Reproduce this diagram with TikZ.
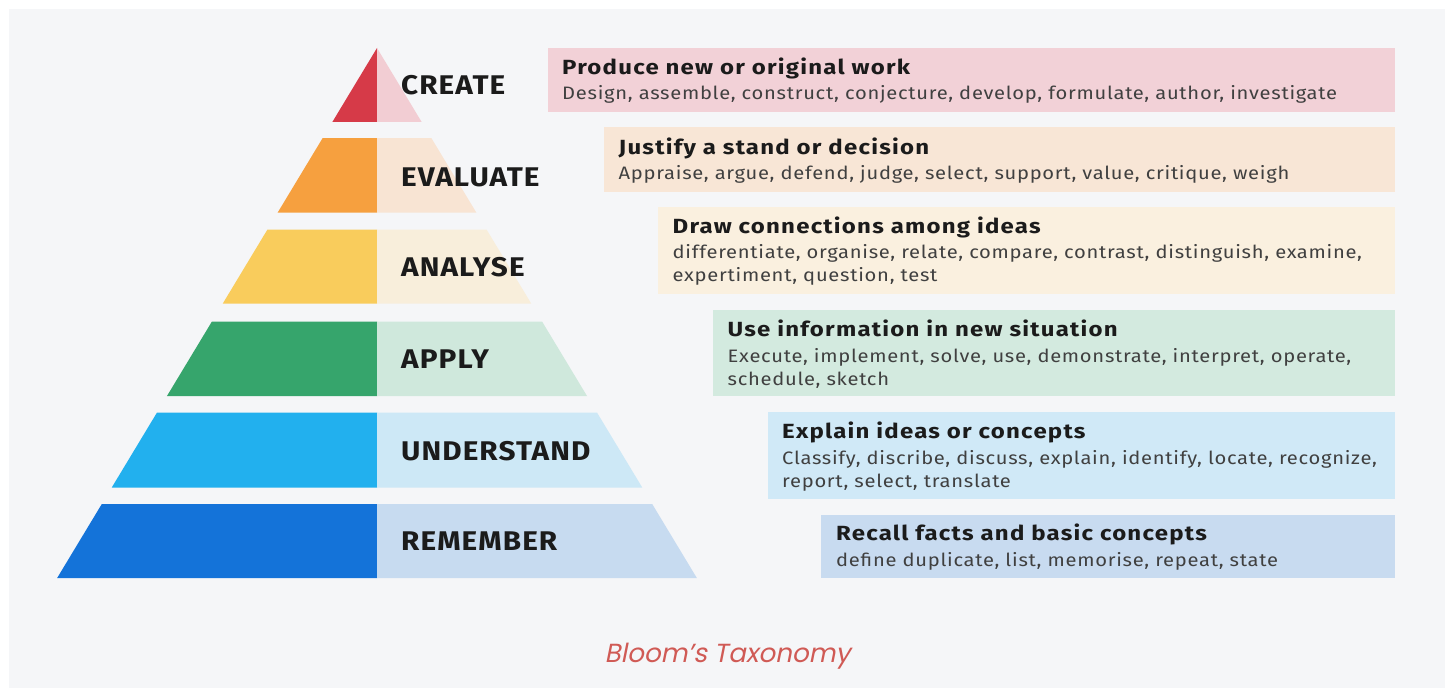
\documentclass[tikz,border=0pt]{standalone}
\usepackage{fontspec}
\setmainfont{Fira Sans}
\newfontfamily\lvlfont[FakeStretch=1.1,LetterSpace=4]{Fira Sans}
\newfontfamily\ttlfont[FakeStretch=1.17,LetterSpace=6]{Fira Sans}
\newfontfamily\subfont[FakeStretch=1.12,LetterSpace=4]{Fira Sans}
\newfontfamily\capfont[FakeSlant=0.2]{Poppins}
\definecolor{panel}{HTML}{F5F6F8}
\definecolor{cRed}{HTML}{D63A48}
\definecolor{cPink}{HTML}{F2CDD3}
\definecolor{cOrange}{HTML}{F6A03F}
\definecolor{cPeach}{HTML}{F8E4D3}
\definecolor{cYellow}{HTML}{F9CC5C}
\definecolor{cCream}{HTML}{F8EEDB}
\definecolor{cGreen}{HTML}{36A56C}
\definecolor{cMint}{HTML}{CFE8DC}
\definecolor{cSky}{HTML}{22B0EE}
\definecolor{cIce}{HTML}{CDE8F6}
\definecolor{cBlue}{HTML}{1473D9}
\definecolor{cSteel}{HTML}{C7DBF0}
\definecolor{bPink}{HTML}{F2D1D7}
\definecolor{bPeach}{HTML}{F8E6D6}
\definecolor{bCream}{HTML}{FAF0DF}
\definecolor{bMint}{HTML}{D3EADF}
\definecolor{bIce}{HTML}{D0E9F7}
\definecolor{bSteel}{HTML}{C8DBF0}
\definecolor{ink}{HTML}{1B1B1B}
\definecolor{subink}{HTML}{404040}
\definecolor{capred}{HTML}{D05A55}
\tikzset{
  lvl/.style={anchor=base west, inner sep=0pt, text=ink, font=\lvlfont\fontsize{27}{30}\selectfont\bfseries},
  ttl/.style={anchor=base west, inner sep=0pt, text=ink, font=\ttlfont\fontsize{20.5}{24}\selectfont\bfseries},
  sub/.style={anchor=base west, inner sep=0pt, text=subink, font=\subfont\fontsize{18}{21}\selectfont},
  infobox/.style={anchor=north west, inner sep=0pt, draw=none},
}
\begin{document}
\begin{tikzpicture}[x=1pt,y=-1pt]
\useasboundingbox (0,0) rectangle (1450,690);
\fill[white] (0,0) rectangle (1450,690);
\fill[panel] (9,9) rectangle (1445,688);
% pyramid
\foreach \t/\b/\dk/\lt in {48/122/cRed/cPink, 138/212.5/cOrange/cPeach, 229.5/303.5/cYellow/cCream, 321.5/396/cGreen/cMint, 412.5/487.5/cSky/cIce, 504/578/cBlue/cSteel}{
  \pgfmathsetmacro\ht{0.6035*(\t-48)}
  \pgfmathsetmacro\hb{0.6035*(\b-48)}
  \fill[\dk] ({377-\ht},\t) -- (377,\t) -- (377,\b) -- ({377-\hb},\b) -- cycle;
  \fill[\lt] (377,\t) -- ({377+\ht},\t) -- ({377+\hb},\b) -- (377,\b) -- cycle;
}
\node[lvl] (create) at (401,95) {CREATE};
\node[lvl] (evaluate) at (401,186.5) {EVALUATE};
\node[lvl] (analyse) at (401,276.5) {ANALYSE};
\node[lvl] (apply) at (401,368) {APPLY};
\node[lvl] (understand) at (401,460.5) {UNDERSTAND};
\node[lvl] (remember) at (401,550.5) {REMEMBER};
% boxes
\node[infobox, fill=bPink, minimum width=847.5pt, minimum height=64pt] (b1) at (547.5,47.5) {};
\node[infobox, fill=bPeach, minimum width=791pt, minimum height=64.5pt] (b2) at (604,127) {};
\node[infobox, fill=bCream, minimum width=737pt, minimum height=86.8pt] (b3) at (658,206.5) {};
\node[infobox, fill=bMint, minimum width=682pt, minimum height=86.7pt] (b4) at (713,309.3) {};
\node[infobox, fill=bIce, minimum width=627.5pt, minimum height=86.6pt] (b5) at (767.5,411.7) {};
\node[infobox, fill=bSteel, minimum width=574pt, minimum height=63.4pt] (b6) at (821,514.3) {};
% texts
\node[ttl] (t1) at (562,74.5) {Produce new or original work};
\node[sub] (s1) at (562,100) {Design, assemble, construct, conjecture, develop, formulate, author, investigate};
\node[ttl] (t2) at (618.5,154) {Justify a stand or decision};
\node[sub] (s2) at (618.5,179.5) {Appraise, argue, defend, judge, select, support, value, critique, weigh};
\node[ttl] (t3) at (672.5,233.3) {Draw connections among ideas};
\node[sub] (s3a) at (672.5,258.6) {differentiate, organise, relate, compare, contrast, distinguish, examine,};
\node[sub] (s3b) at (672.5,281.7) {expertiment, question, test};
\node[ttl] (t4) at (727.5,336) {Use information in new situation};
\node[sub] (s4a) at (727.5,362.3) {Execute, implement, solve, use, demonstrate, interpret, operate,};
\node[sub] (s4b) at (727.5,385) {schedule, sketch};
\node[ttl] (t5) at (782,438) {Explain ideas or concepts};
\node[sub] (s5a) at (782,464.2) {Classify, discribe, discuss, explain, identify, locate, recognize,};
\node[sub] (s5b) at (782,487) {report, select, translate};
\node[ttl] (t6) at (836,540.5) {Recall facts and basic concepts};
\node[sub] (s6) at (836,566.3) {define duplicate, list, memorise, repeat, state};
% caption
\node[anchor=base, inner sep=0pt, text=capred, font=\capfont\fontsize{26.2}{30}\selectfont] (caption) at (727.5,662.7) {Bloom’s Taxonomy};
\end{tikzpicture}
\end{document}
